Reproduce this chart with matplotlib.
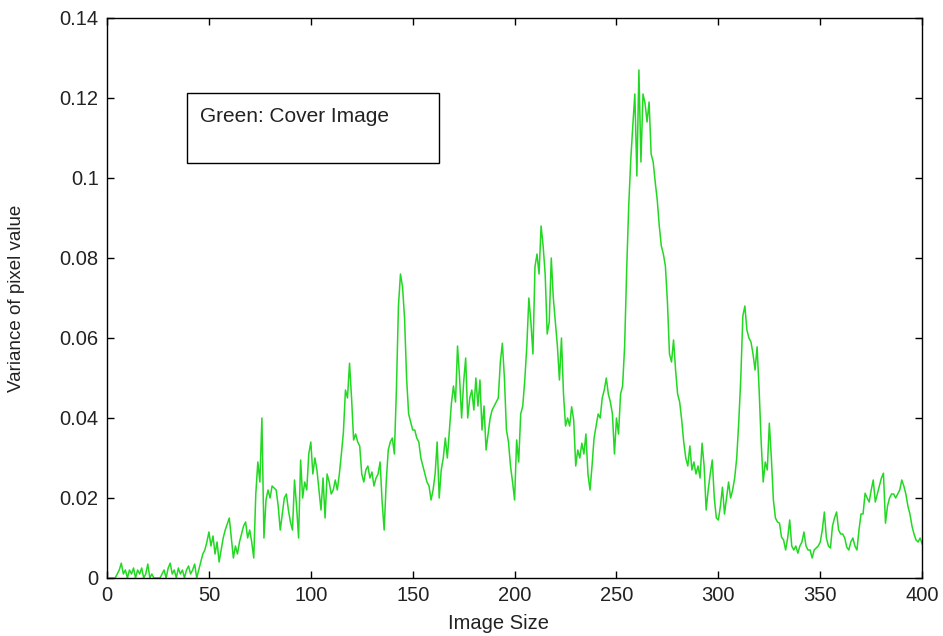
import matplotlib
matplotlib.use("Agg")
import matplotlib.pyplot as plt
from matplotlib.patches import Rectangle

# variance per image size (x = 1..400)
variance = [
    0.000, 0.000, 0.000, 0.000, 0.001, 0.002, 0.0037, 0.001, 0.002, 0.000,
    0.002, 0.001, 0.0025, 0.000, 0.002, 0.001, 0.0025, 0.000, 0.001, 0.0035,
    0.000, 0.001, 0.000, 0.000, 0.000, 0.000, 0.001, 0.002, 0.000, 0.0025,
    0.0037, 0.001, 0.002, 0.000, 0.0025, 0.001, 0.002, 0.000, 0.002, 0.003,
    0.001, 0.002, 0.0035, 0.000, 0.002, 0.004, 0.006, 0.007, 0.009, 0.0115,
    0.008, 0.0105, 0.006, 0.009, 0.004, 0.007, 0.010, 0.012, 0.0135, 0.015,
    0.010, 0.005, 0.008, 0.006, 0.009, 0.011, 0.013, 0.014, 0.010, 0.012,
    0.009, 0.005, 0.021, 0.029, 0.024, 0.040, 0.010, 0.0195, 0.022, 0.020,
    0.023, 0.0225, 0.022, 0.018, 0.012, 0.016, 0.020, 0.021, 0.017, 0.014,
    0.012, 0.0245, 0.018, 0.010, 0.0295, 0.020, 0.024, 0.022, 0.031, 0.034,
    0.026, 0.030, 0.027, 0.022, 0.017, 0.025, 0.015, 0.026, 0.024, 0.021,
    0.022, 0.0245, 0.022, 0.026, 0.031, 0.0365, 0.047, 0.045, 0.0537, 0.045,
    0.0345, 0.036, 0.034, 0.033, 0.026, 0.024, 0.027, 0.028, 0.025, 0.0265,
    0.023, 0.025, 0.026, 0.029, 0.019, 0.012, 0.024, 0.032, 0.034, 0.035,
    0.031, 0.047, 0.068, 0.076, 0.0728, 0.065, 0.050, 0.041, 0.039, 0.037,
    0.037, 0.035, 0.034, 0.030, 0.028, 0.026, 0.024, 0.023, 0.0195, 0.022,
    0.026, 0.034, 0.020, 0.027, 0.030, 0.035, 0.030, 0.037, 0.0437, 0.048,
    0.044, 0.058, 0.050, 0.040, 0.049, 0.055, 0.040, 0.045, 0.047, 0.042,
    0.050, 0.043, 0.0495, 0.037, 0.043, 0.032, 0.036, 0.040, 0.042, 0.043,
    0.044, 0.045, 0.054, 0.0587, 0.050, 0.037, 0.034, 0.028, 0.024, 0.0195,
    0.0345, 0.029, 0.041, 0.043, 0.0495, 0.058, 0.070, 0.064, 0.056, 0.0778,
    0.081, 0.076, 0.088, 0.083, 0.076, 0.061, 0.064, 0.080, 0.070, 0.064,
    0.058, 0.0495, 0.060, 0.046, 0.038, 0.040, 0.038, 0.0428, 0.0395, 0.028,
    0.032, 0.030, 0.0337, 0.031, 0.036, 0.026, 0.022, 0.028, 0.035, 0.038,
    0.041, 0.040, 0.045, 0.047, 0.050, 0.046, 0.044, 0.041, 0.031, 0.040,
    0.036, 0.046, 0.048, 0.058, 0.077, 0.093, 0.1045, 0.113, 0.121, 0.1005,
    0.127, 0.104, 0.121, 0.1187, 0.114, 0.119, 0.106, 0.104, 0.099, 0.0945,
    0.088, 0.083, 0.081, 0.078, 0.069, 0.056, 0.054, 0.0595, 0.052, 0.046,
    0.044, 0.0395, 0.034, 0.030, 0.028, 0.033, 0.027, 0.029, 0.026, 0.028,
    0.025, 0.0337, 0.028, 0.017, 0.022, 0.026, 0.0295, 0.020, 0.015, 0.0145,
    0.018, 0.0227, 0.016, 0.020, 0.024, 0.020, 0.022, 0.025, 0.030, 0.039,
    0.050, 0.0655, 0.068, 0.062, 0.060, 0.059, 0.056, 0.052, 0.0578, 0.047,
    0.034, 0.024, 0.029, 0.027, 0.0387, 0.030, 0.0195, 0.015, 0.014, 0.0137,
    0.0102, 0.0095, 0.007, 0.010, 0.0145, 0.008, 0.007, 0.008, 0.0062, 0.008,
    0.009, 0.0115, 0.008, 0.007, 0.007, 0.005, 0.007, 0.0075, 0.008, 0.009,
    0.012, 0.0165, 0.010, 0.008, 0.0075, 0.013, 0.015, 0.0165, 0.012, 0.011,
    0.011, 0.010, 0.0077, 0.007, 0.009, 0.010, 0.008, 0.007, 0.012, 0.016,
    0.016, 0.0212, 0.020, 0.019, 0.022, 0.0245, 0.019, 0.021, 0.023, 0.025,
    0.0262, 0.0137, 0.018, 0.020, 0.021, 0.021, 0.020, 0.021, 0.022, 0.0245,
    0.023, 0.021, 0.018, 0.016, 0.013, 0.011, 0.0095, 0.009, 0.010, 0.0085,
]
image_size = list(range(1, len(variance) + 1))

x_ticks = [0, 50, 100, 150, 200, 250, 300, 350, 400]
y_ticks = [0, 0.02, 0.04, 0.06, 0.08, 0.10, 0.12, 0.14]
y_labels = ["0", "0.02", "0.04", "0.06", "0.08", "0.1", "0.12", "0.14"]

plt.rcParams["font.family"] = ["Liberation Sans", "DejaVu Sans"]

fig = plt.figure(figsize=(9.43, 6.36), dpi=100)
ax = fig.add_axes([0.1135, 0.0912, 0.8644, 0.8805])

ax.plot(image_size, variance, color="#22d822", lw=1.1)

ax.set_xlim(0, 400)
ax.set_ylim(0, 0.14)
ax.set_xticks(x_ticks)
ax.set_yticks(y_ticks)
ax.set_yticklabels(y_labels)
ax.tick_params(direction="in", length=5, width=1, top=True, right=True,
               labelsize=14.5, colors="black", labelcolor="#222222")
ax.tick_params(axis="x", pad=6)
ax.tick_params(axis="y", pad=6)
for s in ax.spines.values():
    s.set_linewidth(1)

ax.set_xlabel("Image Size", fontsize=14.5, color="#222222")
ax.xaxis.set_label_coords(0.48, -0.064, transform=ax.transAxes)
ax.xaxis.label.set_va("top")
ax.set_ylabel("Variance of pixel value", fontsize=13.5, color="#222222")
ax.yaxis.set_label_coords(-0.101, 0.5, transform=ax.transAxes)

# annotation box
ax.add_patch(Rectangle((39, 0.1038), 124, 0.0175, fill=False,
                       edgecolor="black", lw=1))
ax.text(45.6, 0.1153, "Green: Cover Image", fontsize=15, va="center",
        ha="left", color="#222222")

fig.savefig("out.png", dpi=100)
